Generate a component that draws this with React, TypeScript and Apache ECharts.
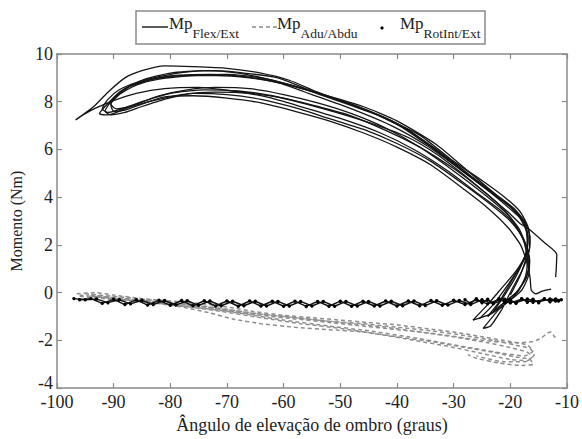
import React, { useEffect, useRef } from "react";
import * as echarts from "echarts";

// ---- Data ----
const xTicks = { min: -100, max: -10, interval: 10 };
const yTicks = { min: -4, max: 10, interval: 2 };

const flexCycle1 = [[-25.5,-1.1],[-23,-0.5],[-20.5,0.3],[-18.3,1.1],[-17,1.8],[-17.2,2.6],[-18.8,3.3],[-22,4.0],[-27,4.9],[-33,6.0],[-40,7.1],[-47,7.8],[-54,8.4],[-59,8.9],[-64,9.2],[-70,9.4],[-76,9.47],[-81,9.5],[-85,9.3],[-88,9.0],[-91,8.4],[-93.5,7.8],[-96.7,7.24],
  [-95,7.5],[-93,7.75],[-90,8.05],[-86,8.35],[-81,8.55],[-75,8.6],[-69,8.45],[-63,8.2],[-57,7.8],[-50,7.3],[-43,6.7],[-37,6.0],[-31,5.1],[-26,4.2],[-22,3.5],[-19,2.8],[-17.3,2.0],[-16.6,1.3],[-17.2,0.6],[-19,0.0],[-21.5,-0.5],[-24,-1.0]];
const flexCycle2 = [[-24,-1.0],[-22,-0.4],[-20,0.4],[-18,1.2],[-16.6,1.9],[-16.8,2.7],[-18.3,3.4],[-21,4.0],[-25,4.7],[-30,5.5],[-36,6.6],[-43,7.4],[-50,8.0],[-56,8.5],[-62,8.9],[-68,9.2],[-74,9.3],[-80,9.2],[-85,8.9],[-89,8.4],[-91.5,7.8],[-92.5,7.5],
  [-91,7.45],[-89,7.6],[-86,7.9],[-82,8.25],[-77,8.5],[-72,8.6],[-66,8.55],[-60,8.3],[-54,7.95],[-48,7.5],[-42,6.9],[-36,6.1],[-30,5.1],[-25,4.2],[-21,3.4],[-18.5,2.7],[-17,1.8],[-16.8,1.0],[-17.8,0.4],[-19.5,-0.2],[-22,-0.7],[-24.8,-1.5],[-23.5,-1.4],[-21.5,-0.7]];
const flexCycle3 = [[-21.5,-0.7],[-19.8,0.1],[-18,0.9],[-16.8,1.6],[-16.5,2.3],[-17.5,3.0],[-20,3.6],[-24,4.3],[-29,5.2],[-35,6.2],[-41,7.0],[-48,7.7],[-55,8.3],[-61,8.8],[-67,9.05],[-73,9.15],[-79,9.1],[-84,8.9],[-88,8.55],[-90.5,8.0],[-91.5,7.6],
  [-90.5,7.45],[-88,7.55],[-85,7.8],[-81,8.1],[-76,8.35],[-70,8.3],[-64,8.1],[-58,7.75],[-52,7.3],[-46,6.85],[-40,6.25],[-34,5.5],[-28,4.5],[-23.5,3.7],[-20,3.0],[-17.8,2.3],[-16.6,1.4],[-16.8,0.7],[-18,0.1],[-20.5,-0.4],[-23.5,-0.9],[-26.6,-1.15]];
const flexCycle4 = [[-26.6,-1.15],[-24,-0.5],[-21.5,0.2],[-19,0.9],[-17.3,1.6],[-16.9,2.4],[-18,3.1],[-20.5,3.7],[-25,4.5],[-31,5.6],[-38,6.8],[-45,7.6],[-52,8.2],[-58,8.65],[-64,9.0],[-70,9.15],[-76,9.1],[-82,8.95],[-86,8.7],[-89,8.3],[-90.5,7.9],
  [-89.5,7.7],[-87,7.8],[-83,8.05],[-78,8.3],[-72,8.4],[-66,8.35],[-60,8.15],[-54,7.8],[-48,7.4],[-42,6.8],[-36,6.1],[-30,5.2],[-25.5,4.4],[-22,3.7],[-19.5,3.0],[-17.7,2.2],[-17,1.4],[-17.3,0.7],[-18.5,0.1],[-20.5,-0.3],[-23,-0.8]];
const flexCycle5 = [[-23,-0.8],[-21,-0.1],[-19.2,0.6],[-17.6,1.4],[-16.9,2.1],[-17.4,2.9],[-19.2,3.5],[-22.5,4.1],[-27,5.0],[-33,6.2],[-40,7.2],[-46,7.8],[-53,8.3],[-60,8.75],[-66,9.0],[-72,9.1],[-78,9.1],[-83,8.95],[-87,8.65],[-89.5,8.2],[-90.5,7.9],[-90,7.6],
  [-88,7.65],[-85,7.9],[-81,8.2],[-76,8.25],[-70,8.15],[-64,7.95],[-58,7.6],[-52,7.2],[-46,6.7],[-40,6.1],[-34,5.35],[-28,4.3],[-24,3.55],[-20.5,2.75],[-18.2,2.0],[-17,1.2],[-16.5,0.6],[-16.3,0.1],[-15.5,-0.05],[-14.5,0.05],[-13.5,0.12],[-12.8,0.15]];
const flexCycle6 = [[-20,-0.1],[-18.3,0.7],[-17.2,1.5],[-16.9,2.3],[-17.8,3.0],[-20,3.5],[-23.5,4.2],[-28.5,5.1],[-34,6.1],[-41,7.2],[-48,7.9],[-55,8.45],[-61,9.0],[-67,9.2],[-72,9.3],[-77,9.25],[-82,9.05],[-86,8.8],[-89,8.5],[-91,8.1],[-92,7.7],
  [-91,7.55],[-88.5,7.7],[-85,8.0],[-80,8.35],[-74,8.5],[-68,8.45],[-62,8.25],[-56,7.9],[-50,7.5],[-44,7.05],[-38,6.5],[-33,5.8],[-28,4.9],[-24,4.1],[-20.5,3.4],[-18.3,2.9],[-16.9,2.7],[-14,2.1],[-11.8,1.6],[-11.9,1.0],[-12.0,0.65]];

const aduCycle1 = [[-96.5,-0.05],[-93,0.0],[-90,-0.1],[-85,-0.25],[-80,-0.35],[-75,-0.45],[-70,-0.6],[-65,-0.8],[-60,-0.95],[-55,-1.05],[-50,-1.15],[-45,-1.25],[-40,-1.35],[-35,-1.5],[-30,-1.65],[-25,-1.85],[-20,-2.05],[-17,-2.2],[-16,-2.45],[-17.5,-2.65],[-21,-2.55],[-26,-2.35],[-32,-2.1],[-38,-1.85],[-45,-1.6],[-52,-1.4],[-60,-1.15],[-68,-0.85],[-76,-0.6],[-84,-0.4],[-92,-0.25],[-96,-0.15]];
const aduCycle2 = [[-96,-0.1],[-90,-0.25],[-84,-0.4],[-78,-0.6],[-73,-0.85],[-69,-1.1],[-64,-1.3],[-58,-1.45],[-52,-1.55],[-46,-1.65],[-40,-1.85],[-34,-2.05],[-28,-2.3],[-23,-2.5],[-19,-2.7],[-16.5,-2.8],[-16,-3.0],[-18,-3.05],[-22,-2.95],[-26,-2.75],[-27.5,-2.6]];
const aduCycle3 = [[-95,-0.05],[-88,-0.2],[-82,-0.35],[-76,-0.5],[-70,-0.7],[-64,-0.9],[-58,-1.05],[-52,-1.2],[-46,-1.3],[-40,-1.45],[-34,-1.6],[-28,-1.8],[-23,-2.0],[-19,-2.2],[-16.5,-2.35],[-15.8,-2.6],[-17,-2.85],[-20,-2.8],[-25,-2.55],[-31,-2.25],[-37,-2.0],[-43,-1.75],[-50,-1.5],[-57,-1.3],[-64,-1.05],[-72,-0.75],[-80,-0.5],[-88,-0.3],[-94,-0.15]];
const aduCycle4 = [[-94,-0.1],[-88,-0.25],[-82,-0.4],[-76,-0.55],[-70,-0.75],[-64,-0.95],[-58,-1.1],[-52,-1.25],[-46,-1.4],[-40,-1.55],[-34,-1.7],[-28,-1.9],[-23,-2.05],[-19,-2.1],[-16,-2.05],[-14.5,-1.9],[-13.5,-1.7],[-12.8,-1.65],[-12.2,-1.85],[-11.7,-1.95]];
const aduCycle5 = [[-93,-0.15],[-86,-0.3],[-79,-0.45],[-72,-0.65],[-66,-0.85],[-60,-1.0],[-54,-1.15],[-48,-1.3],[-42,-1.45],[-36,-1.65],[-30,-1.85],[-24,-2.1],[-20,-2.3],[-17,-2.5],[-16.2,-2.7],[-17.5,-2.9],[-21,-2.9],[-26,-2.65]];

const rotTraceA = [[-97,-0.25],[-95,-0.3],[-93,-0.27],[-91,-0.42],[-89,-0.3],[-87,-0.47],[-85,-0.32],[-83,-0.5],[-81,-0.33],[-79,-0.52],[-77,-0.34],[-75,-0.53],[-73,-0.35],[-71,-0.55],[-69,-0.36],[-67,-0.55],[-65,-0.36],[-63,-0.56],[-61,-0.37],[-59,-0.56],[-57,-0.37],[-55,-0.56],[-53,-0.37],[-51,-0.57],[-49,-0.37],[-47,-0.56],[-45,-0.37],[-43,-0.56],[-41,-0.36],[-39,-0.55],[-37,-0.35],[-35,-0.54],[-33,-0.34],[-31,-0.52],[-29,-0.33],[-27,-0.5],[-25,-0.3],[-23,-0.46],[-21,-0.28],[-19,-0.42],[-17,-0.27],[-15,-0.38],[-13,-0.27],[-11,-0.3]];
const rotTraceB = [[-96,-0.3],[-94,-0.25],[-92,-0.45],[-90,-0.28],[-88,-0.5],[-86,-0.3],[-84,-0.52],[-82,-0.32],[-80,-0.53],[-78,-0.33],[-76,-0.55],[-74,-0.34],[-72,-0.56],[-70,-0.35],[-68,-0.57],[-66,-0.35],[-64,-0.56],[-62,-0.36],[-60,-0.57],[-58,-0.36],[-56,-0.58],[-54,-0.37],[-52,-0.57],[-50,-0.36],[-48,-0.57],[-46,-0.36],[-44,-0.56],[-42,-0.35],[-40,-0.56],[-38,-0.35],[-36,-0.55],[-34,-0.33],[-32,-0.53],[-30,-0.32],[-28,-0.5],[-26,-0.3],[-24,-0.47],[-22,-0.28],[-20,-0.43],[-18,-0.27],[-16,-0.4],[-14,-0.28],[-12,-0.35]];
const rotTraceC = [[-28,-0.3],[-27,-0.45],[-26,-0.25],[-25,-0.42],[-24,-0.28],[-23,-0.45],[-22,-0.25],[-21,-0.4],[-20,-0.3],[-19,-0.45],[-18,-0.25],[-17,-0.4],[-16,-0.28],[-15,-0.42],[-14,-0.25],[-13,-0.38],[-12,-0.27],[-11.5,-0.35]];

const legendLabels = [
  { main: "Mp", sub: "Flex/Ext" },
  { main: "Mp", sub: "Adu/Abdu" },
  { main: "Mp", sub: "RotInt/Ext" },
];
const xAxisTitle = "Ângulo de elevação de ombro (graus)";
const yAxisTitle = "Momento (Nm)";

const flexCycles = [flexCycle1, flexCycle2, flexCycle3, flexCycle4, flexCycle5, flexCycle6];
const aduCycles = [aduCycle1, aduCycle2, aduCycle3, aduCycle4, aduCycle5];
const rotTraces = [rotTraceA, rotTraceB, rotTraceC];

const FONT = "Liberation Serif";
const AXIS_COLOR = "#8a8a8a";
const TEXT_COLOR = "#1e1e1e";

export default function App() {
  const ref = useRef<HTMLDivElement>(null);
  useEffect(() => {
    if (!ref.current) return;
    const chart = echarts.init(ref.current, null, { renderer: "svg" });

    const axisCommon = {
      type: "value" as const,
      splitLine: { show: false },
      axisLine: { show: true, onZero: false, lineStyle: { color: AXIS_COLOR, width: 1.5 } },
      axisTick: { show: true, inside: true, length: 5, lineStyle: { color: AXIS_COLOR, width: 1.2 } },
    };

    const series: any[] = [];
    flexCycles.forEach((d) =>
      series.push({
        name: "Flex/Ext",
        type: "line",
        data: d,
        smooth: 0.2,
        symbol: "none",
        lineStyle: { color: "#151515", width: 1.3 },
        z: 3,
      })
    );
    aduCycles.forEach((d) =>
      series.push({
        name: "Adu/Abdu",
        type: "line",
        data: d,
        smooth: 0.2,
        symbol: "none",
        lineStyle: { color: "#8e8e8e", width: 1.5, type: [4, 3] },
        z: 2,
      })
    );
    rotTraces.forEach((d) =>
      series.push({
        name: "RotInt/Ext",
        type: "line",
        data: d,
        symbol: "circle",
        symbolSize: 3.4,
        showSymbol: true,
        itemStyle: { color: "#000" },
        lineStyle: { color: "#111", width: 1.4 },
        z: 4,
      })
    );

    const lx = [136, 485];
    const legendItems = [
      { iconX: [142, 168], textX: 169, kind: "solid" },
      { iconX: [252, 277], textX: 277, kind: "dashed" },
      { iconX: [382, 382], textX: 400, kind: "dot" },
    ];
    const graphic: any[] = [
      {
        type: "rect",
        shape: { x: lx[0], y: 11, width: lx[1] - lx[0], height: 33 },
        style: { fill: "#fff", stroke: AXIS_COLOR, lineWidth: 1.5 },
        z: 10,
      },
    ];
    legendItems.forEach((it, i) => {
      if (it.kind === "dot") {
        graphic.push({ type: "circle", shape: { cx: it.iconX[0], cy: 28, r: 1.6 }, style: { fill: "#000" }, z: 11 });
      } else {
        graphic.push({
          type: "line",
          shape: { x1: it.iconX[0], y1: 27, x2: it.iconX[1], y2: 27 },
          style: {
            stroke: it.kind === "solid" ? "#151515" : "#8a8a8a",
            lineWidth: 1.4,
            lineDash: it.kind === "solid" ? null : [4, 3],
          },
          z: 11,
        });
      }
      graphic.push({
        type: "text",
        x: it.textX,
        y: 15,
        z: 11,
        style: {
          text: `{m|${legendLabels[i].main}}{s|${legendLabels[i].sub}}`,
          fill: TEXT_COLOR,
          verticalAlign: "top",
          fontFamily: FONT,
          rich: {
            m: { fontFamily: FONT, fontSize: 17, lineHeight: 17, verticalAlign: "top", fill: TEXT_COLOR },
            s: { fontFamily: FONT, fontSize: 13.5, lineHeight: 13.5, padding: [11, 0, 0, 0], verticalAlign: "top", fill: TEXT_COLOR },
          },
        },
      });
    });

    chart.setOption({
      animation: false,
      textStyle: { fontFamily: FONT },
      grid: { left: 50, right: 9, top: 54, bottom: 42, containLabel: false },
      xAxis: [
        {
          ...axisCommon,
          position: "bottom",
          min: xTicks.min,
          max: xTicks.max,
          interval: xTicks.interval,
          axisLabel: { color: TEXT_COLOR, fontSize: 18, fontFamily: FONT, margin: 5 },
          name: xAxisTitle,
          nameLocation: "middle",
          nameGap: 24,
          nameTextStyle: { color: TEXT_COLOR, fontSize: 18, fontFamily: FONT },
        },
        {
          ...axisCommon,
          position: "top",
          min: xTicks.min,
          max: xTicks.max,
          interval: xTicks.interval,
          axisLabel: { show: false },
        },
      ],
      yAxis: [
        {
          ...axisCommon,
          position: "left",
          min: yTicks.min,
          max: yTicks.max,
          interval: yTicks.interval,
          axisLabel: {
            color: TEXT_COLOR,
            fontSize: 18,
            fontFamily: FONT,
            margin: 4,
            formatter: (v: number) => (v === yTicks.min ? `{low|${v}}` : `${v}`),
            rich: { low: { fontFamily: FONT, fontSize: 18, color: TEXT_COLOR, padding: [0, 0, 10, 0] } },
          },
          name: yAxisTitle,
          nameLocation: "middle",
          nameGap: 31,
          nameTextStyle: { color: TEXT_COLOR, fontSize: 16, fontFamily: FONT },
        },
        {
          ...axisCommon,
          position: "right",
          min: yTicks.min,
          max: yTicks.max,
          interval: yTicks.interval,
          axisLabel: { show: false },
        },
      ],
      series,
      graphic,
    });
    return () => chart.dispose();
  }, []);

  return (
    <div
      ref={ref}
      style={{ position: "fixed", left: 0, top: 0, width: 582, height: 439, background: "#fff" }}
    />
  );
}
